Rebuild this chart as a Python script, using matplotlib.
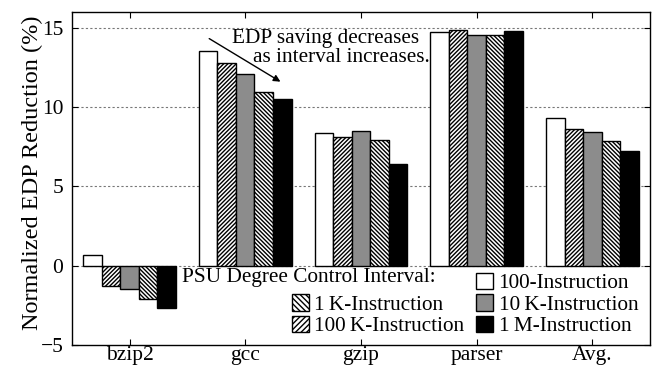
import matplotlib
matplotlib.use('Agg')
import matplotlib.pyplot as plt
import numpy as np
from matplotlib.patches import Patch

# benchmarks on the x axis
benchmarks = ['bzip2', 'gcc', 'gzip', 'parser', 'Avg.']

# normalized EDP reduction (%) per control interval
edp_100 = [0.65, 13.55, 8.40, 14.72, 9.35]
edp_1k = [-1.25, 12.78, 8.12, 14.88, 8.63]
edp_10k = [-1.45, 12.12, 8.48, 14.56, 8.42]
edp_100k = [-2.07, 10.93, 7.92, 14.56, 7.87]
edp_1m = [-2.65, 10.50, 6.40, 14.78, 7.25]

series_labels = ['100-Instruction', '1\u2009K-Instruction', '10\u2009K-Instruction',
                 '100\u2009K-Instruction', '1\u2009M-Instruction']

plt.rcParams['font.family'] = ['Liberation Serif', 'DejaVu Serif']
plt.rcParams['hatch.linewidth'] = 1.0

fig = plt.figure(figsize=(6.58, 3.67), dpi=100)
ax = fig.add_axes([0.109, 0.060, 0.879, 0.907])

series = [edp_100, edp_1k, edp_10k, edp_100k, edp_1m]
faces = ['white', 'white', '#8c8c8c', 'white', 'black']
hatches = [None, '////////', None, '\\\\\\\\\\\\\\\\', None]

x = np.arange(1, len(benchmarks) + 1)
width = 0.16
for i, vals in enumerate(series):
    ax.bar(x + (i - 2) * width, vals, width=width, color=faces[i],
           edgecolor='black', linewidth=1.0, hatch=hatches[i], zorder=3)

ax.set_xlim(0.5, 5.5)
ax.set_ylim(-5, 16)
ax.set_yticks([-5, 0, 5, 10, 15])
ax.set_xticks(x)
ax.set_xticklabels(benchmarks)
ax.tick_params(direction='in', top=True, right=True, labelsize=15.5, length=4)
ax.tick_params(axis='x', pad=1)
ax.tick_params(axis='y', pad=6)
ax.set_yticklabels(['\u22125', '0', '5', '10', '15'])
for yv in [0, 5, 10, 15]:
    ax.axhline(yv, color='#777777', linestyle=(0, (2, 2)), linewidth=0.8, zorder=1)
for s in ax.spines.values():
    s.set_linewidth(1.0)

ax.set_ylabel('Normalized EDP Reduction (%)', fontsize=17.5)
ax.yaxis.set_label_coords(-0.050, 0.518)

# annotation
fs = 15.3
ax.annotate('', xy=(2.325, 11.52), xytext=(1.668, 14.42),
            arrowprops=dict(arrowstyle='-|>', color='black', lw=1.0,
                            mutation_scale=10), zorder=5)
ax.text(1.884, 14.36, 'EDP saving decreases', fontsize=fs, ha='left', va='center', zorder=5)
ax.text(2.066, 13.16, 'as interval increases.', fontsize=fs, ha='left', va='center', zorder=5)

# legend
ax.text(1.452, -0.77, 'PSU Degree Control Interval:', fontsize=fs, ha='left',
        va='center', zorder=5)
blank = Patch(facecolor='none', edgecolor='none')
handles = [blank,
           Patch(facecolor='white', edgecolor='black', hatch='\\\\\\\\\\\\'),
           Patch(facecolor='white', edgecolor='black', hatch='//////'),
           Patch(facecolor='white', edgecolor='black'),
           Patch(facecolor='#8c8c8c', edgecolor='black'),
           Patch(facecolor='black', edgecolor='black')]
labels = ['', series_labels[1], series_labels[3],
          series_labels[0], series_labels[2], series_labels[4]]
leg = ax.legend(handles, labels, ncol=2, loc='lower right',
                bbox_to_anchor=(0.994, 0.0), frameon=False, fontsize=fs,
                handlelength=0.8, handleheight=0.8, handletextpad=0.25,
                columnspacing=0.55, labelspacing=0.05, borderaxespad=0.1,
                borderpad=0.3)
leg.set_zorder(6)

fig.savefig('out.png', dpi=100)
